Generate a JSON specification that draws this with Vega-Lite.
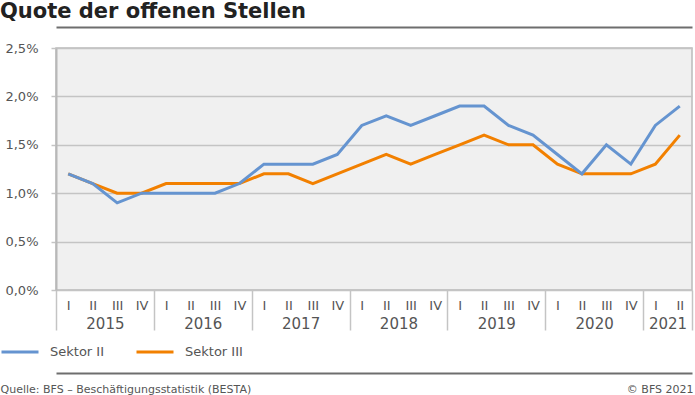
{
  "$schema": "https://vega.github.io/schema/vega-lite/v6.json",
  "width": 636,
  "height": 242,
  "autosize": "none",
  "padding": {"left": 56, "top": 48, "right": 3, "bottom": 105},
  "config": {
    "font": "DejaVu Sans",
    "view": {"fill": "#f0f0f0", "stroke": "#bbbbbb", "strokeWidth": 1.5}
  },
  "title": {
    "text": "Quote der offenen Stellen",
    "anchor": "start",
    "frame": "group",
    "dx": -56,
    "offset": 5,
    "fontSize": 21,
    "fontWeight": "bold",
    "color": "#222222"
  },
  "data": {
    "values": [
      {"t": 0, "jahr": 2015, "quartal": "I", "sektor": "Sektor II", "wert": 1.2},
      {"t": 1, "jahr": 2015, "quartal": "II", "sektor": "Sektor II", "wert": 1.1},
      {"t": 2, "jahr": 2015, "quartal": "III", "sektor": "Sektor II", "wert": 0.9},
      {"t": 3, "jahr": 2015, "quartal": "IV", "sektor": "Sektor II", "wert": 1.0},
      {"t": 4, "jahr": 2016, "quartal": "I", "sektor": "Sektor II", "wert": 1.0},
      {"t": 5, "jahr": 2016, "quartal": "II", "sektor": "Sektor II", "wert": 1.0},
      {"t": 6, "jahr": 2016, "quartal": "III", "sektor": "Sektor II", "wert": 1.0},
      {"t": 7, "jahr": 2016, "quartal": "IV", "sektor": "Sektor II", "wert": 1.1},
      {"t": 8, "jahr": 2017, "quartal": "I", "sektor": "Sektor II", "wert": 1.3},
      {"t": 9, "jahr": 2017, "quartal": "II", "sektor": "Sektor II", "wert": 1.3},
      {"t": 10, "jahr": 2017, "quartal": "III", "sektor": "Sektor II", "wert": 1.3},
      {"t": 11, "jahr": 2017, "quartal": "IV", "sektor": "Sektor II", "wert": 1.4},
      {"t": 12, "jahr": 2018, "quartal": "I", "sektor": "Sektor II", "wert": 1.7},
      {"t": 13, "jahr": 2018, "quartal": "II", "sektor": "Sektor II", "wert": 1.8},
      {"t": 14, "jahr": 2018, "quartal": "III", "sektor": "Sektor II", "wert": 1.7},
      {"t": 15, "jahr": 2018, "quartal": "IV", "sektor": "Sektor II", "wert": 1.8},
      {"t": 16, "jahr": 2019, "quartal": "I", "sektor": "Sektor II", "wert": 1.9},
      {"t": 17, "jahr": 2019, "quartal": "II", "sektor": "Sektor II", "wert": 1.9},
      {"t": 18, "jahr": 2019, "quartal": "III", "sektor": "Sektor II", "wert": 1.7},
      {"t": 19, "jahr": 2019, "quartal": "IV", "sektor": "Sektor II", "wert": 1.6},
      {"t": 20, "jahr": 2020, "quartal": "I", "sektor": "Sektor II", "wert": 1.4},
      {"t": 21, "jahr": 2020, "quartal": "II", "sektor": "Sektor II", "wert": 1.2},
      {"t": 22, "jahr": 2020, "quartal": "III", "sektor": "Sektor II", "wert": 1.5},
      {"t": 23, "jahr": 2020, "quartal": "IV", "sektor": "Sektor II", "wert": 1.3},
      {"t": 24, "jahr": 2021, "quartal": "I", "sektor": "Sektor II", "wert": 1.7},
      {"t": 25, "jahr": 2021, "quartal": "II", "sektor": "Sektor II", "wert": 1.9},
      {"t": 0, "jahr": 2015, "quartal": "I", "sektor": "Sektor III", "wert": 1.2},
      {"t": 1, "jahr": 2015, "quartal": "II", "sektor": "Sektor III", "wert": 1.1},
      {"t": 2, "jahr": 2015, "quartal": "III", "sektor": "Sektor III", "wert": 1.0},
      {"t": 3, "jahr": 2015, "quartal": "IV", "sektor": "Sektor III", "wert": 1.0},
      {"t": 4, "jahr": 2016, "quartal": "I", "sektor": "Sektor III", "wert": 1.1},
      {"t": 5, "jahr": 2016, "quartal": "II", "sektor": "Sektor III", "wert": 1.1},
      {"t": 6, "jahr": 2016, "quartal": "III", "sektor": "Sektor III", "wert": 1.1},
      {"t": 7, "jahr": 2016, "quartal": "IV", "sektor": "Sektor III", "wert": 1.1},
      {"t": 8, "jahr": 2017, "quartal": "I", "sektor": "Sektor III", "wert": 1.2},
      {"t": 9, "jahr": 2017, "quartal": "II", "sektor": "Sektor III", "wert": 1.2},
      {"t": 10, "jahr": 2017, "quartal": "III", "sektor": "Sektor III", "wert": 1.1},
      {"t": 11, "jahr": 2017, "quartal": "IV", "sektor": "Sektor III", "wert": 1.2},
      {"t": 12, "jahr": 2018, "quartal": "I", "sektor": "Sektor III", "wert": 1.3},
      {"t": 13, "jahr": 2018, "quartal": "II", "sektor": "Sektor III", "wert": 1.4},
      {"t": 14, "jahr": 2018, "quartal": "III", "sektor": "Sektor III", "wert": 1.3},
      {"t": 15, "jahr": 2018, "quartal": "IV", "sektor": "Sektor III", "wert": 1.4},
      {"t": 16, "jahr": 2019, "quartal": "I", "sektor": "Sektor III", "wert": 1.5},
      {"t": 17, "jahr": 2019, "quartal": "II", "sektor": "Sektor III", "wert": 1.6},
      {"t": 18, "jahr": 2019, "quartal": "III", "sektor": "Sektor III", "wert": 1.5},
      {"t": 19, "jahr": 2019, "quartal": "IV", "sektor": "Sektor III", "wert": 1.5},
      {"t": 20, "jahr": 2020, "quartal": "I", "sektor": "Sektor III", "wert": 1.3},
      {"t": 21, "jahr": 2020, "quartal": "II", "sektor": "Sektor III", "wert": 1.2},
      {"t": 22, "jahr": 2020, "quartal": "III", "sektor": "Sektor III", "wert": 1.2},
      {"t": 23, "jahr": 2020, "quartal": "IV", "sektor": "Sektor III", "wert": 1.2},
      {"t": 24, "jahr": 2021, "quartal": "I", "sektor": "Sektor III", "wert": 1.3},
      {"t": 25, "jahr": 2021, "quartal": "II", "sektor": "Sektor III", "wert": 1.6}
    ]
  },
  "encoding": {
    "y": {
      "field": "wert",
      "type": "quantitative",
      "scale": {"domain": [0, 2.5], "nice": false},
      "axis": {
        "values": [0, 0.5, 1, 1.5, 2, 2.5],
        "labelExpr": "replace(format(datum.value, '.1f'), '.', ',') + '%'",
        "grid": true,
        "gridColor": "#c4c4c4",
        "gridWidth": 1.5,
        "domainColor": "#b8b8b8",
        "domainWidth": 2,
        "tickColor": "#c4c4c4",
        "tickSize": 5,
        "tickWidth": 1.5,
        "labelPadding": 13,
        "labelFontSize": 13,
        "labelColor": "#555555",
        "title": "© BFS 2021",
        "titleAngle": 0,
        "titleX": 637,
        "titleY": 344,
        "titleAlign": "right",
        "titleAnchor": null,
        "titleBaseline": "alphabetic",
        "titleFontSize": 11,
        "titleFontWeight": "normal",
        "titleColor": "#555555"
      }
    }
  },
  "layer": [
    {
      "transform": [{"filter": "datum.sektor === 'Sektor III'"}],
      "mark": {"type": "line", "strokeWidth": 3},
      "encoding": {
        "x": {
          "field": "t",
          "type": "quantitative",
          "scale": {"domain": [-0.5, 25.5], "nice": false, "zero": false},
          "axis": {
            "orient": "bottom",
            "values": [-0.5, 0, 1, 1.5, 2, 3, 3.5, 4, 5, 5.5, 6, 7, 7.5, 8, 9, 9.5, 10, 11, 11.5, 12, 13, 13.5, 14, 15, 15.5, 16, 17, 17.5, 18, 19, 19.5, 20, 21, 21.5, 22, 23, 23.5, 24, 24.5, 25, 25.5],
            "labelExpr": "datum.value % 1 === 0 ? ['I','II','III','IV'][datum.value % 4] : ((datum.value % 4 === 3.5 || datum.value === 25.5 || datum.value === -0.5) ? '' : '' + (2015 + floor(datum.value / 4)))",
            "labelOverlap": false,
            "labelFlush": false,
            "labelBound": false,
            "labelBaseline": "top",
            "labelAlign": "center",
            "labelColor": "#555555",
            "labelFontSize": {"condition": {"test": "datum.value % 1 !== 0", "value": 15}, "value": 13},
            "labelPadding": {"condition": {"test": "datum.value % 1 !== 0", "value": -14}, "value": -31},
            "tickSize": 40,
            "tickColor": "#c4c4c4",
            "tickWidth": 1.5,
            "tickOpacity": {"condition": {"test": "datum.value % 4 === 3.5 || datum.value === 25.5 || datum.value === -0.5", "value": 1}, "value": 0},
            "domain": false,
            "grid": false,
            "title": "Quelle: BFS – Beschäftigungsstatistik (BESTA)",
            "titleX": -56,
            "titleY": 102,
            "titleAlign": "left",
            "titleAnchor": null,
            "titleBaseline": "alphabetic",
            "titleFontSize": 11,
            "titleFontWeight": "normal",
            "titleColor": "#555555"
          }
        },
        "color": {
          "field": "sektor",
          "type": "nominal",
          "scale": {"domain": ["Sektor II", "Sektor III"], "range": ["#6594d0", "#f28000"]},
          "legend": {
            "orient": "none",
            "legendX": -56,
            "legendY": 284,
            "direction": "horizontal",
            "title": null,
            "symbolType": "stroke",
            "symbolSize": 1369,
            "symbolStrokeWidth": 3,
            "labelFontSize": 13,
            "labelColor": "#555555",
            "labelOffset": 10,
            "columnPadding": 26
          }
        }
      }
    },
    {
      "transform": [{"filter": "datum.sektor === 'Sektor II'"}],
      "mark": {"type": "line", "strokeWidth": 3},
      "encoding": {
        "x": {
          "field": "t",
          "type": "quantitative",
          "scale": {"domain": [-0.5, 25.5], "nice": false, "zero": false},
          "axis": {
            "orient": "top",
            "offset": 21,
            "domain": true,
            "domainColor": "#6e6e6e",
            "domainWidth": 2,
            "ticks": false,
            "labels": false,
            "grid": false,
            "title": null
          }
        },
        "color": {
          "field": "sektor",
          "type": "nominal",
          "scale": {"domain": ["Sektor II", "Sektor III"], "range": ["#6594d0", "#f28000"]}
        }
      }
    },
    {
      "mark": {"type": "rule", "color": "#c4c4c4", "strokeWidth": 1.5},
      "encoding": {
        "x": {
          "field": "t",
          "aggregate": "min",
          "type": "quantitative",
          "scale": {"domain": [-0.5, 25.5], "nice": false, "zero": false},
          "axis": {
            "orient": "bottom",
            "offset": 83,
            "domain": true,
            "domainColor": "#6e6e6e",
            "domainWidth": 2,
            "ticks": false,
            "labels": false,
            "grid": false,
            "title": null
          }
        },
        "x2": {"field": "t", "aggregate": "max"},
        "y": {"datum": 0}
      }
    }
  ],
  "resolve": {"axis": {"x": "independent"}}
}
